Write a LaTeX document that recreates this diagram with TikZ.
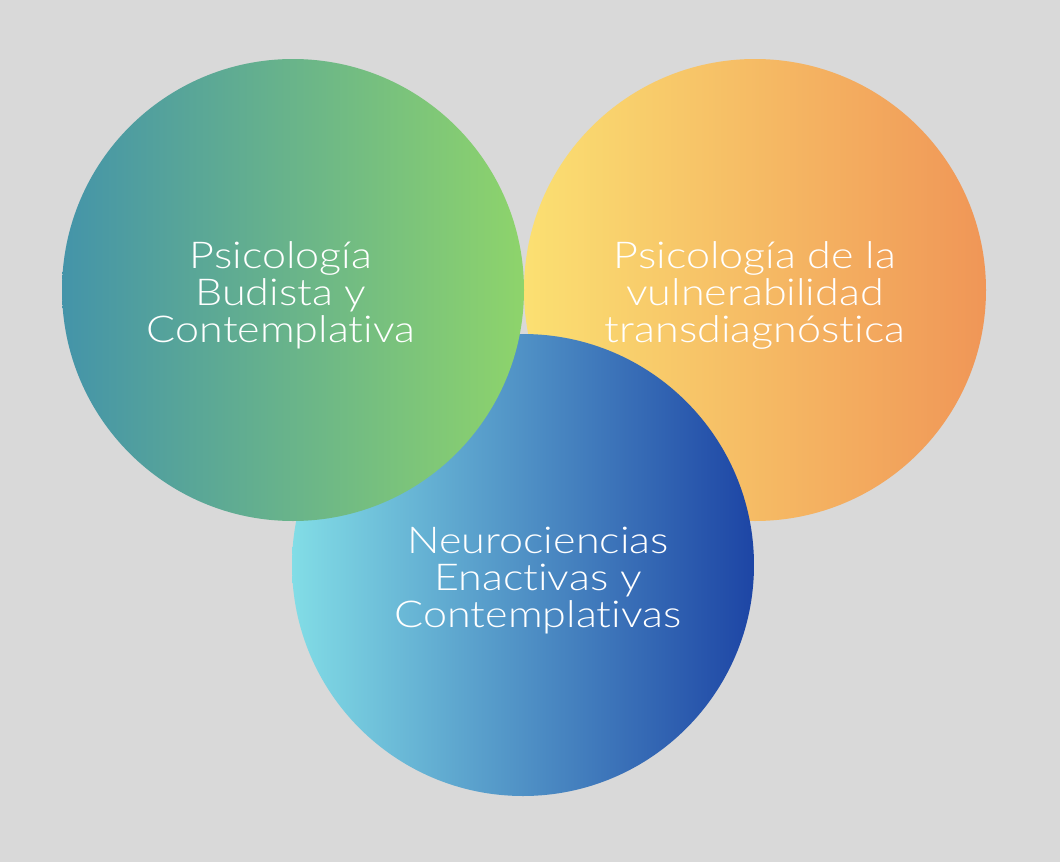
\documentclass[tikz,border=0pt]{standalone}
\usepackage{fontspec}
\IfFontExistsTF{Lato Light}
  {\setmainfont{Lato Light}[FakeStretch=1.165, Ligatures=NoCommon]}
  {\setmainfont{Lato}[FakeStretch=1.14, Ligatures=NoCommon]}
\definecolor{bg}{HTML}{D9D9D9}
\definecolor{gL}{HTML}{4494A9}
\definecolor{gR}{HTML}{8ED46B}
\definecolor{oL}{HTML}{FBE072}
\definecolor{oR}{HTML}{F09657}
\definecolor{bL}{HTML}{82DDE6}
\definecolor{bR}{HTML}{1D45A5}
\tikzset{
  lbl/.style={text=white, align=center, inner sep=0pt,
    font=\fontsize{37}{37}\selectfont},
}
\begin{document}
\begin{tikzpicture}[x=1pt,y=-1pt]
\fill[bg] (0,0) rectangle (1060,862);
\useasboundingbox (0,0) rectangle (1060,862);
\shade[left color=oL, right color=oR] (755,290) circle[radius=231];
\shade[left color=bL, right color=bR] (523,565) circle[radius=231];
\shade[left color=gL, right color=gR] (293,290) circle[radius=231];
\node[lbl] (t1) at (281,295) {Psicología\\Budista y\\Contemplativa};
\node[lbl] (t2) at (755,295) {Psicología de la\\vulnerabilidad\\transdiagnóstica};
\node[lbl] (t3) at (538,581) {Neurociencias\\Enactivas y\\Contemplativas};
\end{tikzpicture}
\end{document}
